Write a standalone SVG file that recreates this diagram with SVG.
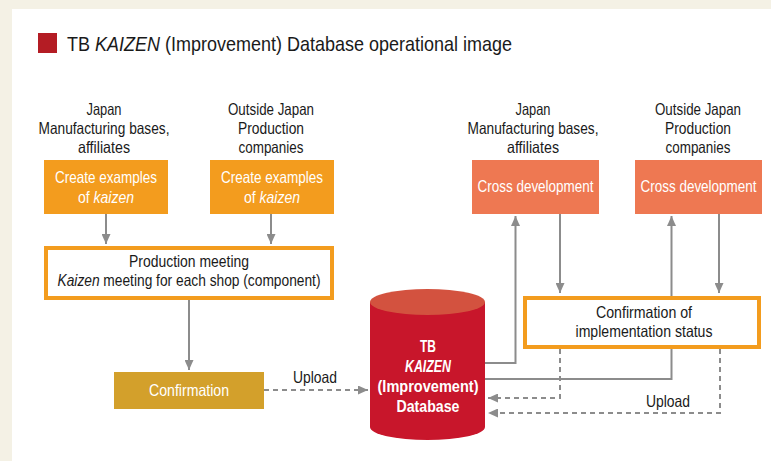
<svg xmlns="http://www.w3.org/2000/svg" width="771" height="461" viewBox="0 0 771 461">
<defs>
<style>
text{font-family:"Liberation Sans",Arial,sans-serif;font-size:16.5px;fill:#1a1a1a;text-anchor:middle}
.w{fill:#fff}
.b{font-weight:bold;font-size:17px}
.i{font-style:italic}
.ln{fill:none;stroke:#8c8c8c;stroke-width:2}
.d{stroke-dasharray:5 4}
.or{fill:#f39c1e}
.sa{fill:#ee7852}
.fr{fill:#fff;stroke:#f39c1e;stroke-width:4}
</style>
<marker id="ah" markerUnits="userSpaceOnUse" markerWidth="10" markerHeight="9" refX="10" refY="4.5" orient="auto">
<path d="M0,0 L10,4.5 L0,9 z" fill="#8c8c8c"/>
</marker>
</defs>
<rect x="0" y="0" width="771" height="461" fill="#f4f1e5"/>
<rect x="12" y="9" width="759" height="452" fill="#fff"/>
<g id="title">
<rect x="38" y="33" width="19" height="20" fill="#b41c24"/>
<text x="67" y="50.5" style="text-anchor:start;font-size:21px" textLength="445" lengthAdjust="spacingAndGlyphs">TB <tspan class="i">KAIZEN</tspan> (Improvement) Database operational image</text>
</g>
<g id="connectors">
<path class="ln" d="M106,214 V244" marker-end="url(#ah)"/>
<path class="ln" d="M271,214 V244" marker-end="url(#ah)"/>
<path class="ln" d="M189,300 V370" marker-end="url(#ah)"/>
<path class="ln d" d="M264,390 H368" marker-end="url(#ah)"/>
<path class="ln" d="M485,363 H515.5 V216" marker-end="url(#ah)"/>
<path class="ln" d="M560,214 V293" marker-end="url(#ah)"/>
<path class="ln" d="M485,379 H671.5 V216" marker-end="url(#ah)"/>
<path class="ln" d="M719,214 V293" marker-end="url(#ah)"/>
<path class="ln d" d="M560,349 V398 H488" marker-end="url(#ah)"/>
<path class="ln d" d="M720,349 V413 H488" marker-end="url(#ah)"/>
<text x="315" y="383" textLength="44" lengthAdjust="spacingAndGlyphs">Upload</text>
<text x="668" y="407" textLength="44" lengthAdjust="spacingAndGlyphs">Upload</text>
</g>
<g id="label-jp-left">
<text x="104" y="115" textLength="35" lengthAdjust="spacingAndGlyphs">Japan</text>
<text x="104" y="134" textLength="131" lengthAdjust="spacingAndGlyphs">Manufacturing bases,</text>
<text x="104" y="153" textLength="52" lengthAdjust="spacingAndGlyphs">affiliates</text>
</g>
<g id="label-os-left">
<text x="271" y="115" textLength="86" lengthAdjust="spacingAndGlyphs">Outside Japan</text>
<text x="271" y="134" textLength="66" lengthAdjust="spacingAndGlyphs">Production</text>
<text x="271" y="153" textLength="65" lengthAdjust="spacingAndGlyphs">companies</text>
</g>
<g id="create-jp">
<rect class="or" x="44" y="160" width="124" height="54"/>
<text class="w" x="106" y="183" textLength="102" lengthAdjust="spacingAndGlyphs">Create examples</text>
<text class="w" x="106" y="203" textLength="56" lengthAdjust="spacingAndGlyphs">of <tspan class="i">kaizen</tspan></text>
</g>
<g id="create-os">
<rect class="or" x="210" y="160" width="124" height="54"/>
<text class="w" x="272" y="183" textLength="102" lengthAdjust="spacingAndGlyphs">Create examples</text>
<text class="w" x="272" y="203" textLength="56" lengthAdjust="spacingAndGlyphs">of <tspan class="i">kaizen</tspan></text>
</g>
<g id="production-meeting">
<rect class="fr" x="46" y="248" width="286" height="50"/>
<text x="189" y="267" textLength="120" lengthAdjust="spacingAndGlyphs">Production meeting</text>
<text x="189" y="286" textLength="263" lengthAdjust="spacingAndGlyphs"><tspan class="i">Kaizen</tspan> meeting for each shop (component)</text>
</g>
<g id="confirmation">
<rect x="114" y="372" width="150" height="37" fill="#d3a02b"/>
<text class="w" x="189" y="396" textLength="80" lengthAdjust="spacingAndGlyphs">Confirmation</text>
</g>
<g id="database">
<path d="M370,302 V427 A57.5,13 0 0 0 485,427 V302 Z" fill="#c8162b"/>
<ellipse cx="427.5" cy="302" rx="57.5" ry="13" fill="#d3523f"/>
<text class="w b" x="428" y="352" textLength="16" lengthAdjust="spacingAndGlyphs">TB</text>
<text class="w b i" x="428" y="372" textLength="46" lengthAdjust="spacingAndGlyphs">KAIZEN</text>
<text class="w b" x="428" y="392" textLength="101" lengthAdjust="spacingAndGlyphs">(Improvement)</text>
<text class="w b" x="428" y="412" textLength="63" lengthAdjust="spacingAndGlyphs">Database</text>
</g>
<g id="label-jp-right">
<text x="533" y="115" textLength="35" lengthAdjust="spacingAndGlyphs">Japan</text>
<text x="533" y="134" textLength="131" lengthAdjust="spacingAndGlyphs">Manufacturing bases,</text>
<text x="533" y="153" textLength="52" lengthAdjust="spacingAndGlyphs">affiliates</text>
</g>
<g id="label-os-right">
<text x="698" y="115" textLength="86" lengthAdjust="spacingAndGlyphs">Outside Japan</text>
<text x="698" y="134" textLength="66" lengthAdjust="spacingAndGlyphs">Production</text>
<text x="698" y="153" textLength="65" lengthAdjust="spacingAndGlyphs">companies</text>
</g>
<g id="cross-jp">
<rect class="sa" x="472" y="160" width="127" height="54"/>
<text class="w" x="535.5" y="192" textLength="116" lengthAdjust="spacingAndGlyphs">Cross development</text>
</g>
<g id="cross-os">
<rect class="sa" x="635" y="160" width="127" height="54"/>
<text class="w" x="698.5" y="192" textLength="116" lengthAdjust="spacingAndGlyphs">Cross development</text>
</g>
<g id="confirmation-status">
<rect class="fr" x="525" y="298" width="234" height="49"/>
<text x="644" y="318" textLength="96" lengthAdjust="spacingAndGlyphs">Confirmation of</text>
<text x="644" y="337" textLength="137" lengthAdjust="spacingAndGlyphs">implementation status</text>
</g>
</svg>
